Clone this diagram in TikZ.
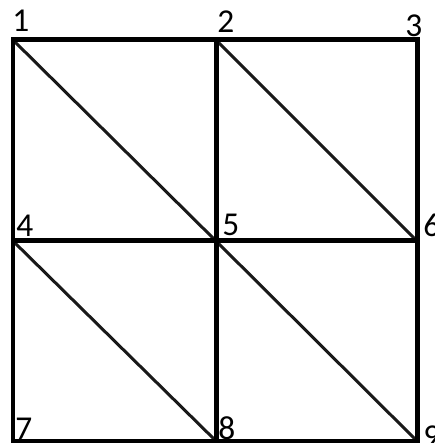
\documentclass[tikz,border=0pt]{standalone}
\usepackage{fontspec}
\setmainfont{Carlito}
\usepackage{tikz}
\tikzset{
gridline/.style={line width=0.1cm,black,line cap=rect},
diagline/.style={line width=0.06cm,black!90},
vlabel/.style={anchor=base west,inner sep=0pt,font=\fontsize{19}{22}\selectfont}
}

\begin{document}
\begin{tikzpicture}[x=0.02cm,y=0.02cm]
\useasboundingbox (0,0) rectangle (434,443);
% grid points
\coordinate (p1) at (13,403);
\coordinate (p2) at (216,403);
\coordinate (p3) at (417,403);
\coordinate (p4) at (13,202);
\coordinate (p5) at (216,202);
\coordinate (p6) at (417,202);
\coordinate (p7) at (13,2);
\coordinate (p8) at (216,2);
\coordinate (p9) at (417,2);
% diagonals
\draw[diagline] (p1) -- (p5);
\draw[diagline] (p2) -- (p6);
\draw[diagline] (p4) -- (p8);
\draw[diagline] (p5) -- (p9);
% square edges
\draw[gridline] (p1) -- (p3) -- (p9) -- (p7) -- cycle;
\draw[gridline] (p4) -- (p6);
\draw[gridline] (p2) -- (p8);
% vertex numbers
\node[vlabel] (n1) at (12,411) {1};
\node[vlabel] (n2) at (217,410) {2};
\node[vlabel] (n3) at (405,406) {3};
\node[vlabel] (n4) at (16,206) {4};
\node[vlabel] (n5) at (222,207) {5};
\node[vlabel] (n6) at (423,206) {6};
\node[vlabel] (n7) at (15,4) {7};
\node[vlabel] (n8) at (218,4) {8};
\node[vlabel] (n9) at (423,-5) {9};
\end{tikzpicture}
\end{document}
